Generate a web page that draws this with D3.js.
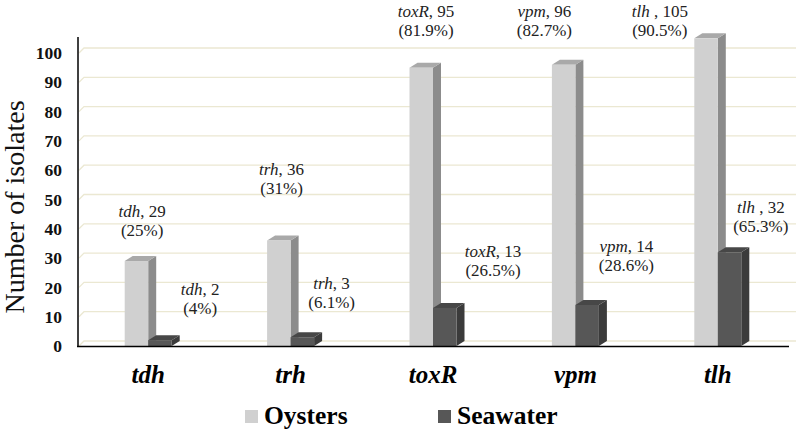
<!DOCTYPE html>
<html>
<head>
<meta charset="utf-8">
<script src="https://cdn.jsdelivr.net/npm/d3@7"></script>
<style>
  html, body { margin: 0; padding: 0; background: #fff; }
  svg { display: block; }
</style>
</head>
<body>
<svg id="chart" width="800" height="434"></svg>
<script>
// ---- data ----
const genes = ["tdh", "trh", "toxR", "vpm", "tlh"];
const oysters = [29, 36, 95, 96, 105];
const seawater = [2, 3, 13, 14, 32];
const oysterPct = ["25%", "31%", "81.9%", "82.7%", "90.5%"];
const seawaterPct = ["4%", "6.1%", "26.5%", "28.6%", "65.3%"];
const geneSep = [",", ",", ",", ",", " ,"];
const yTicks = [0, 10, 20, 30, 40, 50, 60, 70, 80, 90, 100];
const seriesNames = ["Oysters", "Seawater"];

// ---- layout (label anchors: x offset from group centre in px, level in data units) ----
const oysterLabelDx = [-6, -9, -7, -31, -58];
const oysterLabelLevel = [44, 58.4, 112.3, 112.3, 112.3];
const seaLabelDx = [52, 41, 60, 51, 43];
const seaLabelLevel = [17.4, 19.5, 30.4, 32.1, 45.4];

const FONT = '"Liberation Serif", "Times New Roman", serif';
const svg = d3.select("#chart");
const x = d3.scaleBand().domain(genes).range([77, 789]);
const y = d3.scaleLinear().domain([0, 100]).range([346, 53]);
const barW = 23.5, dx = 8, dy = 5;
const colors = {
  Oysters: { front: "#d0d0d0", side: "#8c8c8c", top: "#a9a9a9" },
  Seawater: { front: "#575757", side: "#3b3b3b", top: "#474747" }
};

// gridlines (back wall)
const grid = svg.append("g");
yTicks.forEach(t => {
  const yy = y(t);
  grid.append("path")
    .attr("d", `M79,${yy} L${79 + dx - 3},${yy - dy} L796,${yy - dy}`)
    .attr("fill", "none").attr("stroke", "#ebe8d2").attr("stroke-width", 1.3);
});

// bars
function bar3d(g, x0, v, c) {
  const x1 = x0 + barW, yt = y(v), yb = y(0);
  g.append("path").attr("d", `M${x1},${yt} L${x1 + dx},${yt - dy} L${x1 + dx},${yb - dy} L${x1},${yb} Z`).attr("fill", c.side);
  g.append("path").attr("d", `M${x0},${yt} L${x0 + dx},${yt - dy} L${x1 + dx},${yt - dy} L${x1},${yt} Z`).attr("fill", c.top);
  g.append("rect").attr("x", x0).attr("y", yt).attr("width", barW).attr("height", yb - yt).attr("fill", c.front);
}
const bars = svg.append("g");
genes.forEach((gname, i) => {
  const cx = x(gname) + x.bandwidth() / 2;
  bar3d(bars, cx - barW, oysters[i], colors.Oysters);
  bar3d(bars, cx, seawater[i], colors.Seawater);
});

// axes
const yAxis = svg.append("g").attr("transform", "translate(78,0)")
  .call(d3.axisLeft(y).tickValues(yTicks).tickSize(0).tickPadding(16).tickFormat(d3.format("d")));
yAxis.select(".domain").remove();
yAxis.selectAll("text").style("font-family", FONT).attr("font-weight", "bold").attr("font-size", 17.5).attr("fill", "#111");
svg.append("line").attr("x1", 78).attr("x2", 78).attr("y1", 37).attr("y2", 346.5).attr("stroke", "#000").attr("stroke-width", 1.5);

const xAxis = svg.append("g").attr("transform", "translate(0,346)")
  .call(d3.axisBottom(x).tickSize(0).tickPadding(19));
xAxis.select(".domain").attr("stroke", "#000").attr("stroke-width", 1.5).attr("d", "M77,0.5H789");
xAxis.selectAll("text").style("font-family", FONT).attr("font-weight", "bold").attr("font-style", "italic")
  .attr("font-size", 25).attr("fill", "#000");

// y title
svg.append("text").attr("transform", "translate(24,207) rotate(-90)")
  .attr("text-anchor", "middle").style("font-family", FONT).attr("font-size", 28).attr("fill", "#111")
  .text("Number of isolates");

// data labels
function dataLabel(cx, lvl, gname, sep, val, pct) {
  const t = svg.append("text").style("font-family", FONT).attr("font-size", 17).attr("fill", "#222")
    .attr("text-anchor", "middle");
  const l1 = t.append("tspan").attr("x", cx).attr("y", y(lvl));
  l1.append("tspan").attr("font-style", "italic").text(gname);
  l1.append("tspan").text(sep + " " + val);
  t.append("tspan").attr("x", cx).attr("y", y(lvl) + 19).text("(" + pct + ")");
}
genes.forEach((gname, i) => {
  const cx = x(gname) + x.bandwidth() / 2;
  dataLabel(cx + oysterLabelDx[i], oysterLabelLevel[i], gname, geneSep[i], oysters[i], oysterPct[i]);
  dataLabel(cx + seaLabelDx[i], seaLabelLevel[i], gname, geneSep[i], seawater[i], seawaterPct[i]);
});

// legend
const legend = svg.append("g");
const legX = [245, 438];
seriesNames.forEach((s, i) => {
  legend.append("rect").attr("x", legX[i]).attr("y", 410).attr("width", 13).attr("height", 13)
    .attr("fill", colors[s].front);
  legend.append("text").attr("x", legX[i] + 19).attr("y", 424)
    .style("font-family", FONT).attr("font-weight", "bold").attr("font-size", 25.5).attr("fill", "#000").text(s);
});
</script>
</body>
</html>
